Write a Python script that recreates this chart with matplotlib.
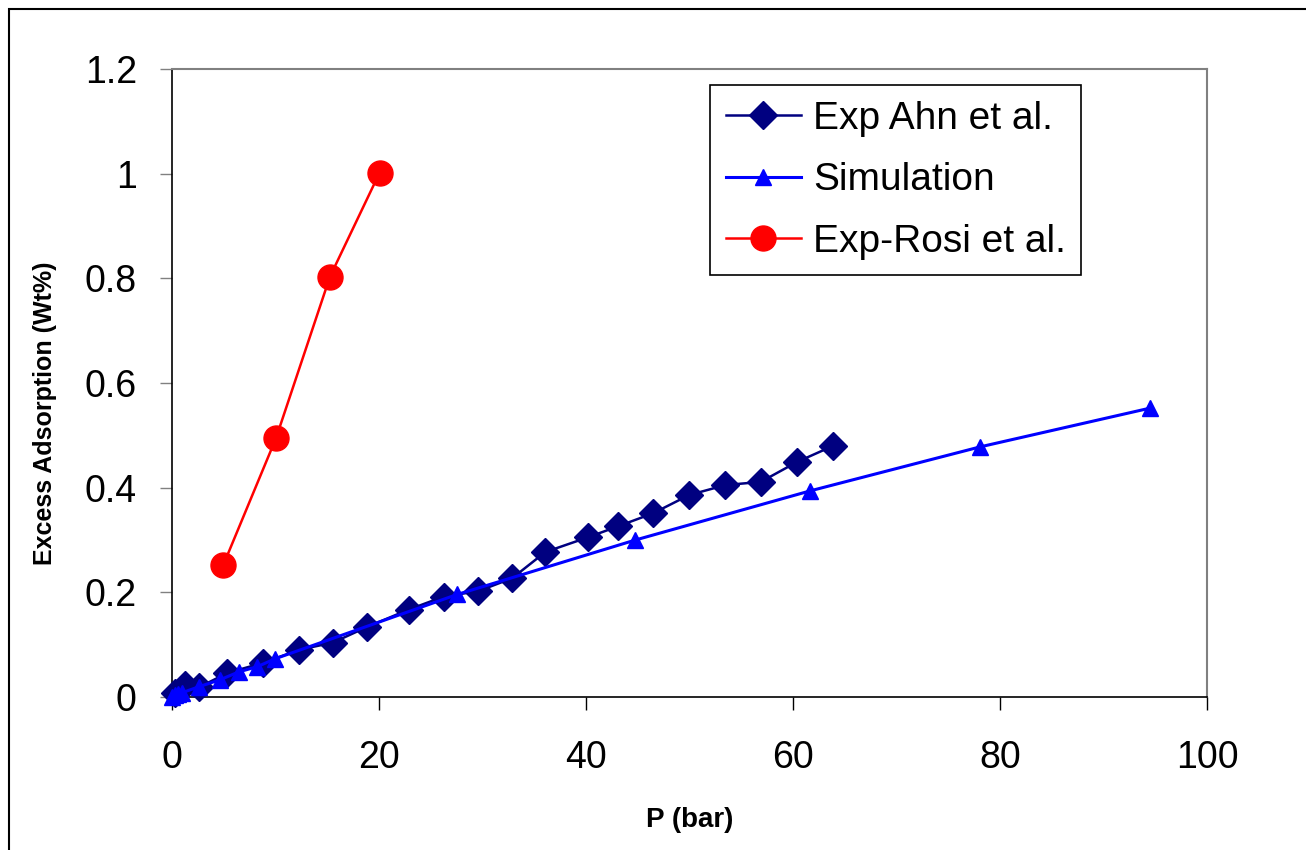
import matplotlib
matplotlib.use("Agg")
import matplotlib.pyplot as plt
from matplotlib.patches import Rectangle

plt.rcParams['font.family'] = ['Liberation Sans', 'DejaVu Sans']

# Data
ahn_p = [0.3, 1.3, 2.7, 5.4, 8.8, 12.3, 15.6, 18.9, 22.9, 26.3, 29.6, 32.9,
         36.1, 40.2, 43.1, 46.5, 50.0, 53.5, 56.9, 60.4, 63.9]
ahn_w = [0.008, 0.022, 0.019, 0.046, 0.065, 0.090, 0.104, 0.134, 0.167, 0.192, 0.202, 0.227,
         0.277, 0.305, 0.326, 0.351, 0.386, 0.405, 0.411, 0.449, 0.480]

sim_p = [0.0, 0.3, 0.6, 1.0, 2.7, 4.7, 6.5, 8.3, 10.0, 27.6, 44.8, 61.7, 78.1, 94.5]
sim_w = [0.0, 0.003, 0.005, 0.008, 0.020, 0.033, 0.048, 0.058, 0.073, 0.196, 0.300, 0.394, 0.478, 0.552]

rosi_p = [5.0, 10.1, 15.3, 20.1]
rosi_w = [0.252, 0.495, 0.803, 1.002]

labels = ["Exp Ahn et al.", "Simulation", "Exp-Rosi et al."]
x_ticks = [0, 20, 40, 60, 80, 100]
y_ticks = [0, 0.2, 0.4, 0.6, 0.8, 1.0, 1.2]
y_tick_labels = ["0", "0.2", "0.4", "0.6", "0.8", "1", "1.2"]

W, H = 1306, 850
fig = plt.figure(figsize=(W / 100, H / 100), dpi=100)
ax = fig.add_axes([171.5 / W, 1 - 697 / H, (1207 - 171.5) / W, (697 - 69) / H])

ax.plot(ahn_p, ahn_w, color='#000080', lw=1.8, marker='D', ms=14,
        mfc='#000080', mec='#000080', label=labels[0], zorder=3, clip_on=False)
ax.plot(sim_p, sim_w, color='#0000FF', lw=2.2, marker='^', ms=12,
        mfc='#0000FF', mec='#0000FF', label=labels[1], zorder=4, clip_on=False)
ax.plot(rosi_p, rosi_w, color='#FF0000', lw=1.8, marker='o', ms=18,
        mfc='#FF0000', mec='#FF0000', label=labels[2], zorder=5, clip_on=False)

ax.set_xlim(0, 100)
ax.set_ylim(0, 1.2)
ax.set_xticks(x_ticks)
ax.set_xticklabels([str(t) for t in x_ticks])
ax.set_yticks(y_ticks)
ax.set_yticklabels(y_tick_labels)

for s in ['left', 'bottom']:
    ax.spines[s].set_color('black')
    ax.spines[s].set_linewidth(1.2)
for s in ['top', 'right']:
    ax.spines[s].set_color('#808080')
    ax.spines[s].set_linewidth(1.5)

ax.tick_params(axis='x', direction='out', length=9, width=1, color='black',
               labelsize=27, pad=22)
ax.tick_params(axis='y', direction='out', length=9, width=1, color='#808080',
               labelsize=27, pad=16)

ax.set_xlabel("P (bar)", fontsize=20, fontweight='bold', labelpad=22)
ax.set_ylabel("Excess Adsorption (Wt%)", fontsize=18, fontweight='bold')
ax.yaxis.set_label_coords((57 - 171.5) / (1207 - 171.5), (697 - 413) / (697 - 69))

leg = ax.legend(loc='upper left', bbox_to_anchor=(710 / W, 1 - 85 / H),
                bbox_transform=fig.transFigure, borderaxespad=0,
                fontsize=28, handlelength=1.95, handletextpad=0.3,
                labelspacing=0.66, borderpad=0.4, fancybox=False, shadow=False,
                framealpha=1, edgecolor='black')
leg.get_frame().set_linewidth(1.2)

fig.patches.append(Rectangle((9 / W, -0.1), 2, 1 - 9 / H + 0.1,
                             transform=fig.transFigure, fill=False,
                             edgecolor='black', lw=1.5, zorder=0))

fig.savefig("out.png", dpi=100)
